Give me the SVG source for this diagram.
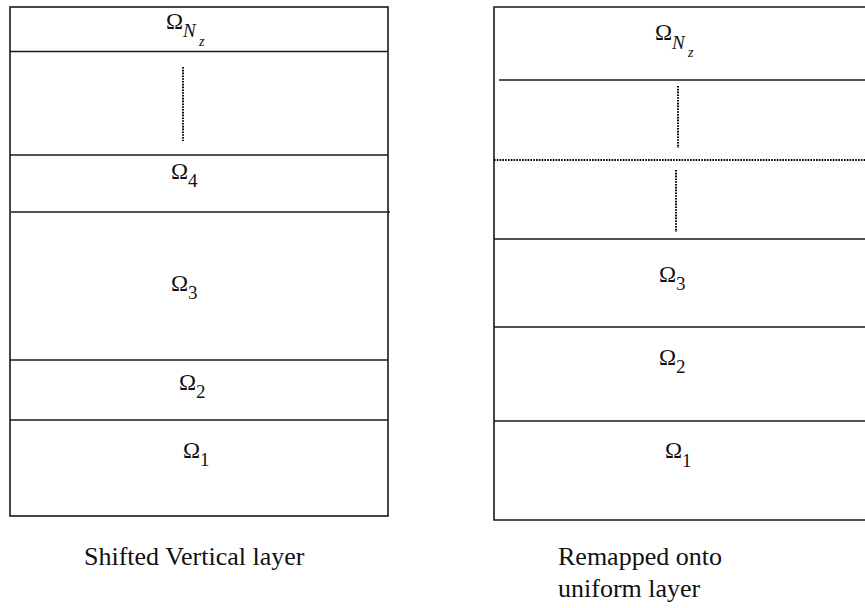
<svg xmlns="http://www.w3.org/2000/svg" width="865" height="608" viewBox="0 0 865 608">
<style>
.ln{stroke:#1a1a1a;stroke-width:1.6;fill:none}
.dot{stroke:#000;stroke-width:2;stroke-dasharray:1.6 1.2;fill:none}
.om{font-family:"Liberation Serif","Times New Roman",serif;font-size:23px;fill:#111}
.sub{font-family:"Liberation Serif","Times New Roman",serif;font-size:19px;fill:#111}
.it{font-family:"Liberation Serif","Times New Roman",serif;font-style:italic;fill:#111}
.cap{font-family:"Liberation Serif","Times New Roman",serif;font-size:26px;fill:#111}
</style>
<rect width="865" height="608" fill="#fff"/>
<g id="left-stack">
  <rect class="ln" x="10" y="7" width="378" height="509"/>
  <g id="L-Nz">
    <text class="om" x="166" y="29">Ω</text>
    <text class="it" x="183" y="37" font-size="19">N</text>
    <text class="it" x="199" y="46" font-size="14">z</text>
  </g>
  <g id="L-dots"><line class="dot" x1="183" y1="67" x2="183" y2="141"/></g>
  <g id="L-4"><text class="om" x="171" y="179">Ω</text><text class="sub" x="188" y="187">4</text></g>
  <g id="L-3"><text class="om" x="171" y="291">Ω</text><text class="sub" x="188" y="299">3</text></g>
  <g id="L-2"><text class="om" x="179" y="390">Ω</text><text class="sub" x="196" y="398">2</text></g>
  <g id="L-1"><text class="om" x="183" y="458">Ω</text><text class="sub" x="200" y="466">1</text></g>
</g>
<g id="right-stack">
  <path class="ln" d="M865 7 H494 V520 H865"/>
  <g id="R-Nz">
    <text class="om" x="655" y="40">Ω</text>
    <text class="it" x="672" y="49" font-size="19">N</text>
    <text class="it" x="688" y="57" font-size="14">z</text>
  </g>
  <g id="R-dots">
    <line class="dot" x1="678" y1="86" x2="678" y2="148"/>
    <line class="dot" x1="676" y1="170" x2="676" y2="232"/>
  </g>
  <g id="R-3"><text class="om" x="659" y="282">Ω</text><text class="sub" x="676" y="290">3</text></g>
  <g id="R-2"><text class="om" x="659" y="365">Ω</text><text class="sub" x="676" y="373">2</text></g>
  <g id="R-1"><text class="om" x="665" y="458">Ω</text><text class="sub" x="682" y="467">1</text></g>
</g>
<g id="connectors">
  <line class="ln" x1="10" y1="51.5" x2="388" y2="51.5"/>
  <line class="ln" x1="10" y1="155" x2="388" y2="155"/>
  <line class="ln" x1="11" y1="212" x2="390" y2="212"/>
  <line class="ln" x1="10" y1="360" x2="388" y2="360"/>
  <line class="ln" x1="10" y1="420" x2="388" y2="420"/>
  <line class="ln" x1="499" y1="80" x2="865" y2="80"/>
  <line class="dot" x1="494" y1="160" x2="865" y2="160"/>
  <line class="ln" x1="494" y1="239" x2="865" y2="239"/>
  <line class="ln" x1="494" y1="327" x2="865" y2="327"/>
  <line class="ln" x1="494" y1="421" x2="865" y2="421"/>
</g>
<g id="captions">
  <text class="cap" x="84" y="565">Shifted Vertical layer</text>
  <text class="cap" x="558" y="565">Remapped onto</text>
  <text class="cap" x="558" y="597">uniform layer</text>
</g>
</svg>
